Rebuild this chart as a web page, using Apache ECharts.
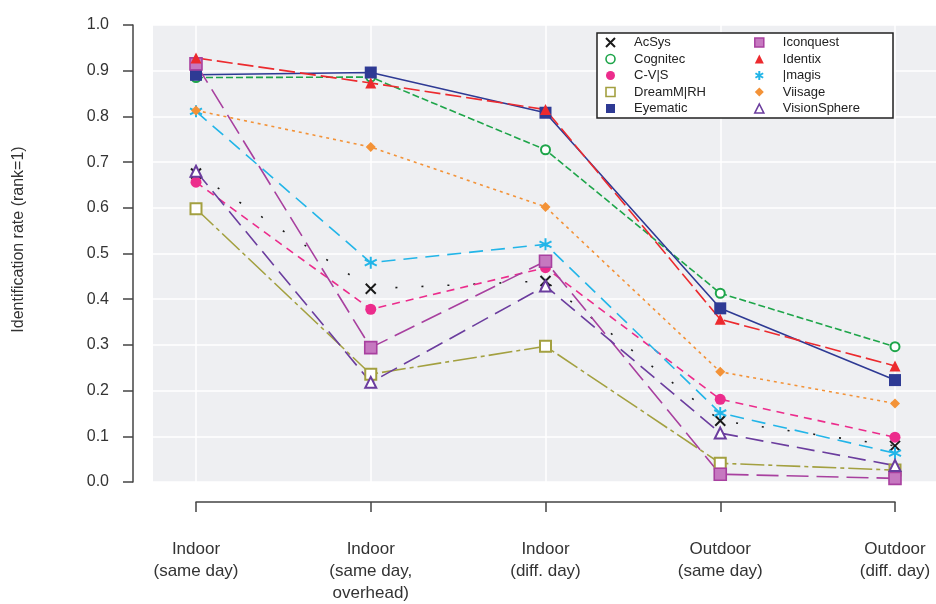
<!DOCTYPE html>
<html>
<head>
<meta charset="utf-8">
<script src="https://cdn.jsdelivr.net/npm/echarts@6/dist/echarts.min.js"></script>
<style>
  html, body { margin: 0; padding: 0; background: #fff; }
  #chart { width: 936px; height: 604px; }
</style>
</head>
<body>
<div id="chart"></div>
<script>
// categories (x axis)
const categories = ['Indoor\n(same day)', 'Indoor\n(same day,\noverhead)', 'Indoor\n(diff. day)', 'Outdoor\n(same day)', 'Outdoor\n(diff. day)']

// identification rate per vendor
const acsys        = [0.675, 0.423, 0.440, 0.134, 0.079]
const cognitec     = [0.885, 0.886, 0.727, 0.413, 0.296]
const cvis         = [0.656, 0.378, 0.469, 0.181, 0.098]
const dreammirh    = [0.598, 0.236, 0.297, 0.041, 0.026]
const eyematic     = [0.891, 0.896, 0.808, 0.380, 0.223]
const iconquest    = [0.915, 0.294, 0.483, 0.017, 0.008]
const identix      = [0.928, 0.873, 0.815, 0.356, 0.254]
const imagis       = [0.811, 0.480, 0.520, 0.151, 0.063]
const viisage      = [0.813, 0.733, 0.602, 0.241, 0.172]
const visionsphere = [0.680, 0.218, 0.429, 0.107, 0.036]

const leftNames = ['AcSys', 'Cognitec', 'C-V|S', 'DreamM|RH', 'Eyematic']
const rightNames = ['Iconquest', 'Identix', '|magis', 'Viisage', 'VisionSphere']

const CROSS = 'path://M0,0L10,10M10,0L0,10'
const STAR = 'path://M5,0L5,10M0.7,2.5L9.3,7.5M0.7,7.5L9.3,2.5'

// name, data, colour, symbol, size, dash, hollow/stroked
const defs = [
  ['AcSys', acsys, '#1a1a1a', CROSS, 10, [2, 24], 'stroke'],
  ['Cognitec', cognitec, '#1ea54a', 'emptyCircle', 9, [7, 3], 'empty'],
  ['C-V|S', cvis, '#ec2c8c', 'circle', 11, [8, 6], 'fill'],
  ['DreamM|RH', dreammirh, '#a3a040', 'emptyRect', 11, [24, 4, 4, 4], 'empty'],
  ['Eyematic', eyematic, '#2e3a94', 'rect', 12, 'solid', 'fill'],
  ['Iconquest', iconquest, '#a8409f', 'rect', 12, [22, 8], 'pattern'],
  ['Identix', identix, '#ec2a2e', 'triangle', 11, [16, 5], 'fill'],
  ['|magis', imagis, '#22b5e8', STAR, 12, [14, 8], 'stroke'],
  ['Viisage', viisage, '#f39237', 'diamond', 10, [3, 4], 'fill'],
  ['VisionSphere', visionsphere, '#6b3d9e', 'emptyTriangle', 11, [18, 8], 'empty']
]

function itemStyleFor(color, kind) {
  if (kind === 'stroke') return { color: 'rgba(0,0,0,0)', borderColor: color, borderWidth: 2 }
  if (kind === 'empty') return { color: color, borderColor: color, borderWidth: 1.6 }
  if (kind === 'pattern') return { color: '#c678c0', borderColor: color, borderWidth: 1.6 }
  return { color: color }
}

function legendItemStyle(color, kind) {
  if (kind === 'stroke') return { color: 'rgba(0,0,0,0)', borderColor: color, borderWidth: 2 }
  if (kind === 'empty') return { color: '#fff', borderColor: color, borderWidth: 1.6 }
  if (kind === 'pattern') return { color: '#c678c0', borderColor: color, borderWidth: 1.5 }
  return { color: color, borderWidth: 0 }
}

function legendIcon(sym) {
  return sym.indexOf('empty') === 0 ? sym.charAt(5).toLowerCase() + sym.slice(6) : sym
}

const byName = {}
defs.forEach(d => { byName[d[0]] = d })

function legendData(names) {
  return names.map(n => {
    const d = byName[n]
    return { name: n, icon: legendIcon(d[3]), itemStyle: legendItemStyle(d[2], d[6]) }
  })
}

const series = defs.map(d => ({
  name: d[0],
  type: 'line',
  xAxisIndex: 1,
  yAxisIndex: 1,
  data: d[1],
  symbol: d[3],
  symbolSize: d[4],
  showAllSymbol: true,
  animation: false,
  lineStyle: { color: d[2], width: 1.6, type: d[5] },
  itemStyle: itemStyleFor(d[2], d[6]),
  emphasis: { disabled: true }
}))

const legendCommon = {
  orient: 'vertical',
  top: 31,
  itemWidth: 9,
  itemHeight: 9,
  itemGap: 3.5,
  selectedMode: false,
  textStyle: { fontFamily: 'Liberation Sans', fontSize: 13, color: '#222', padding: [0, 0, 0, 14] }
}

const chart = echarts.init(document.getElementById('chart'))
chart.setOption({
  backgroundColor: '#fff',
  animation: false,
  textStyle: { fontFamily: 'Liberation Sans' },
  grid: [
    { left: 153, right: 0, top: 25, bottom: 122, show: true, backgroundColor: '#eeeff2', borderWidth: 0 },
    { left: 196, right: 41, top: 25, bottom: 122 }
  ],
  xAxis: [
    { gridIndex: 0, type: 'value', min: 0, max: 1, show: false },
    {
      gridIndex: 1,
      type: 'category',
      boundaryGap: false,
      data: categories,
      offset: 20,
      axisLine: { onZero: false, lineStyle: { color: '#444', width: 1.5 } },
      axisTick: { length: 10, lineStyle: { color: '#444', width: 1.5 } },
      axisLabel: { margin: 36, fontSize: 17, lineHeight: 22, color: '#333', fontFamily: 'Liberation Sans' },
      splitLine: { show: true, lineStyle: { color: '#fff', width: 1.5 } }
    }
  ],
  yAxis: [
    {
      gridIndex: 0, type: 'value', min: 0, max: 1, interval: 0.1,
      axisLine: { show: false }, axisTick: { show: false }, axisLabel: { show: false },
      splitLine: { show: true, lineStyle: { color: '#fff', width: 1.5 } }
    },
    {
      gridIndex: 1, type: 'value', min: 0, max: 1, interval: 0.1,
      offset: 63,
      name: 'Identification rate (rank=1)',
      nameLocation: 'middle',
      nameGap: 106,
      nameTextStyle: { fontSize: 16, color: '#333', fontFamily: 'Liberation Sans', padding: [0, 0, 0, 28] },
      axisLine: { show: true, lineStyle: { color: '#444', width: 1.5 } },
      axisTick: { show: true, length: 10, lineStyle: { color: '#444', width: 1.5 } },
      axisLabel: { margin: 24, fontSize: 16, color: '#333', fontFamily: 'Liberation Sans', formatter: v => v.toFixed(1) },
      splitLine: { show: false }
    }
  ],
  graphic: [{
    type: 'rect',
    z: 3,
    shape: { x: 597, y: 33, width: 296, height: 85 },
    style: { fill: '#fff', stroke: '#222', lineWidth: 1.5 }
  }],
  legend: [
    Object.assign({}, legendCommon, { left: 600, data: legendData(leftNames) }),
    Object.assign({}, legendCommon, { left: 749, data: legendData(rightNames) })
  ],
  series: series
})
</script>
</body>
</html>
